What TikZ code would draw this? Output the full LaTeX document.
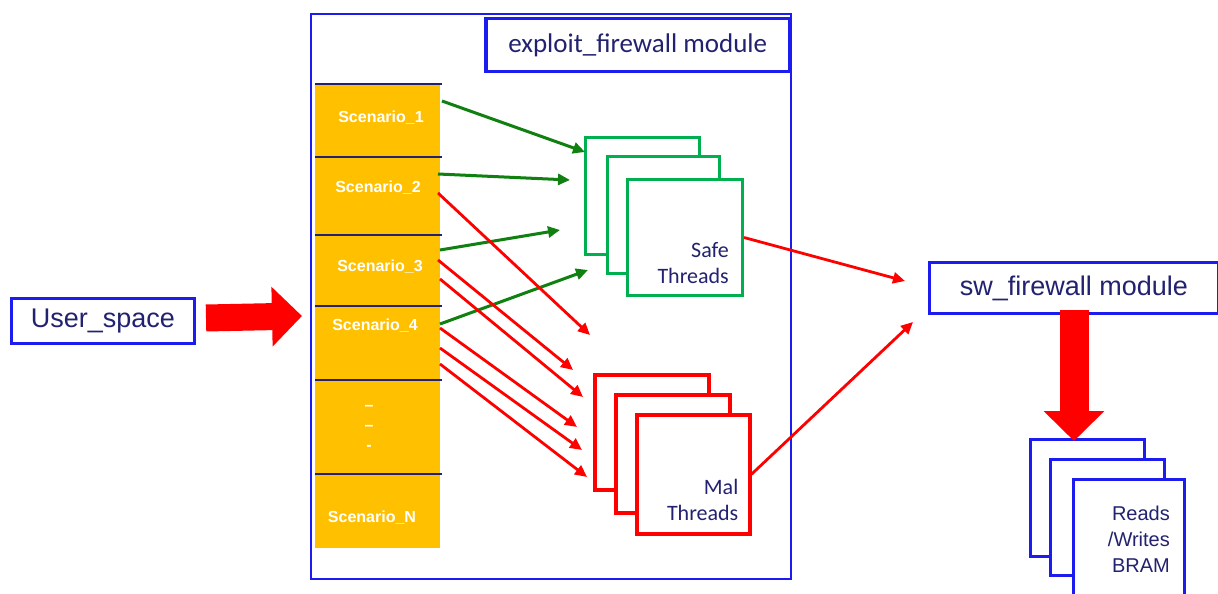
\documentclass[tikz,border=0pt]{standalone}
\usepackage{fontspec}
\setmainfont{Liberation Sans}
\newfontfamily\calib{Carlito}
\usetikzlibrary{arrows.meta,calc}

\definecolor{fwblue}{RGB}{28,28,238}
\definecolor{navy}{RGB}{34,34,112}
\definecolor{scen}{RGB}{255,192,0}
\definecolor{safegreen}{RGB}{0,176,80}
\definecolor{arrowgreen}{RGB}{16,128,16}
\definecolor{hotred}{RGB}{255,0,0}

\begin{document}
\begin{tikzpicture}[x=1pt,y=-1pt,
  frame/.style={draw=fwblue, fill=white, inner sep=0pt, anchor=north west},
  card/.style={draw=#1, fill=white, line width=3pt, inner sep=0pt, anchor=north west},
  row/.style={fill=scen, inner sep=0pt, anchor=north west, minimum width=125pt},
  divider/.style={draw=navy, line width=1.8pt},
  scentext/.style={text=white, font=\bfseries\fontsize{16}{18}\selectfont},
  bigtext/.style={text=navy, font=\fontsize{27}{32}\selectfont},
  cardtext/.style={text=navy, align=right, inner sep=0pt, anchor=south east},
  safearrow/.style={draw=arrowgreen, line width=3pt, -{Triangle[length=12pt,width=11pt]}},
  malarrow/.style={draw=hotred, line width=2.8pt, -{Triangle[length=12pt,width=11pt]}},
  blockarrow/.style={draw=hotred, line width=#1},
]
\clip (0,0) rectangle (1218,594);
\fill[white] (0,0) rectangle (1218,594);

% user space
\node[frame, line width=3pt, minimum width=183pt, minimum height=45pt, bigtext] (user) at (10,297) {User\_space};

% exploit_firewall module frame and its title
\node[frame, line width=2pt, minimum width=480pt, minimum height=565pt] (exploit) at (310,13) {};
\node[frame, line width=3.5pt, minimum width=304pt, minimum height=53pt, bigtext, font=\calib\fontsize{27}{32}\selectfont] (title) at (484,17) {exploit\_firewall module};

% scenario column
\node[row, minimum height=73pt] (row1) at (315,84) {};
\node[row, minimum height=78pt] (row2) at (315,157) {};
\node[row, minimum height=71pt] (row3) at (315,235) {};
\node[row, minimum height=74pt] (row4) at (315,306) {};
\node[row, minimum height=94pt] (row5) at (315,380) {};
\node[row, minimum height=74pt] (row6) at (315,474) {};
\foreach \r in {1,...,6}{
  \draw[divider] (row\r.north west) -- ([xshift=2pt]row\r.north east);
}
\node[scentext] (sc1) at (381,118) {Scenario\_1};
\node[scentext] (sc2) at (378,188) {Scenario\_2};
\node[scentext] (sc3) at (380,267) {Scenario\_3};
\node[scentext] (sc4) at (375,326) {Scenario\_4};
\node[scentext, align=center, font=\bfseries\fontsize{16}{20}\selectfont] (scdots) at (369,428) {--\\--\\-};
\node[scentext] (scN) at (372,518) {Scenario\_N};

% safe thread stack
\node[card=safegreen, minimum width=114pt, minimum height=117pt] (safe1) at (584,136) {};
\node[card=safegreen, minimum width=112pt, minimum height=117pt] (safe2) at (606,155) {};
\node[card=safegreen, minimum width=115pt, minimum height=116pt] (safe3) at (626,178) {};
\node[cardtext, font=\calib\fontsize{22}{26}\selectfont] (safetxt) at ([xshift=-15pt,yshift=13pt]safe3.south east) {Safe\\Threads};

% malicious thread stack
\node[card=hotred, line width=3.5pt, minimum width=114pt, minimum height=115pt] (mal1) at (593,373) {};
\node[card=hotred, line width=3.5pt, minimum width=114pt, minimum height=118pt] (mal2) at (614,393) {};
\node[card=hotred, line width=3.5pt, minimum width=113pt, minimum height=119pt] (mal3) at (635,413) {};
\node[cardtext, font=\calib\fontsize{22}{26}\selectfont] (maltxt) at ([xshift=-13pt,yshift=15pt]mal3.south east) {Mal\\Threads};

% sw_firewall module and BRAM stack
\node[frame, line width=3pt, minimum width=289pt, minimum height=51pt, bigtext] (sw) at (928,261) {sw\_firewall module};
\node[card=fwblue, minimum width=114pt, minimum height=117pt] (bram1) at (1029,438) {};
\node[card=fwblue, minimum width=114pt, minimum height=116pt] (bram2) at (1049,458) {};
\node[card=fwblue, minimum width=111pt, minimum height=140pt] (bram3) at (1072,478) {};
\node[cardtext, anchor=north east, font=\fontsize{20}{26}\selectfont] (bramtxt) at (1170,506) {Reads\\/Writes\\BRAM};

% block arrows
\coordinate (colentry) at (302,316);
\draw[blockarrow=27pt, -{Triangle[length=30pt,width=58pt]}] ($(user.east)+(10,-3)$) -- (colentry);
\draw[blockarrow=29pt, -{Triangle[length=30pt,width=59pt]}] ([yshift=5pt]sw.south) -- ([yshift=-3pt]bram1.north -| sw.south);

% scenario -> safe threads
\coordinate (g1s) at (442,101); \coordinate (g1e) at (585,152);
\coordinate (g2s) at (438,174); \coordinate (g2e) at (570,180);
\coordinate (g3s) at (440,250); \coordinate (g3e) at (560,230);
\coordinate (g4s) at (440,324); \coordinate (g4e) at (588,270);
\foreach \i in {1,...,4}{ \draw[safearrow] (g\i s) -- (g\i e); }

% scenario -> malicious threads
\coordinate (r1s) at (438,193); \coordinate (r1e) at (590,335);
\coordinate (r2s) at (438,260); \coordinate (r2e) at (573,370);
\coordinate (r3s) at (440,279); \coordinate (r3e) at (583,397);
\coordinate (r4s) at (440,328); \coordinate (r4e) at (577,427);
\coordinate (r5s) at (440,348); \coordinate (r5e) at (582,450);
\coordinate (r6s) at (440,364); \coordinate (r6e) at (587,477);
\foreach \i in {1,...,6}{ \draw[malarrow] (r\i s) -- (r\i e); }

% thread stacks -> sw_firewall module
\coordinate (swin1) at (905,281);
\coordinate (swin2) at (913,322);
\draw[malarrow] (safe3.east) -- (swin1);
\draw[malarrow] (mal3.east) -- (swin2);
\end{tikzpicture}
\end{document}
